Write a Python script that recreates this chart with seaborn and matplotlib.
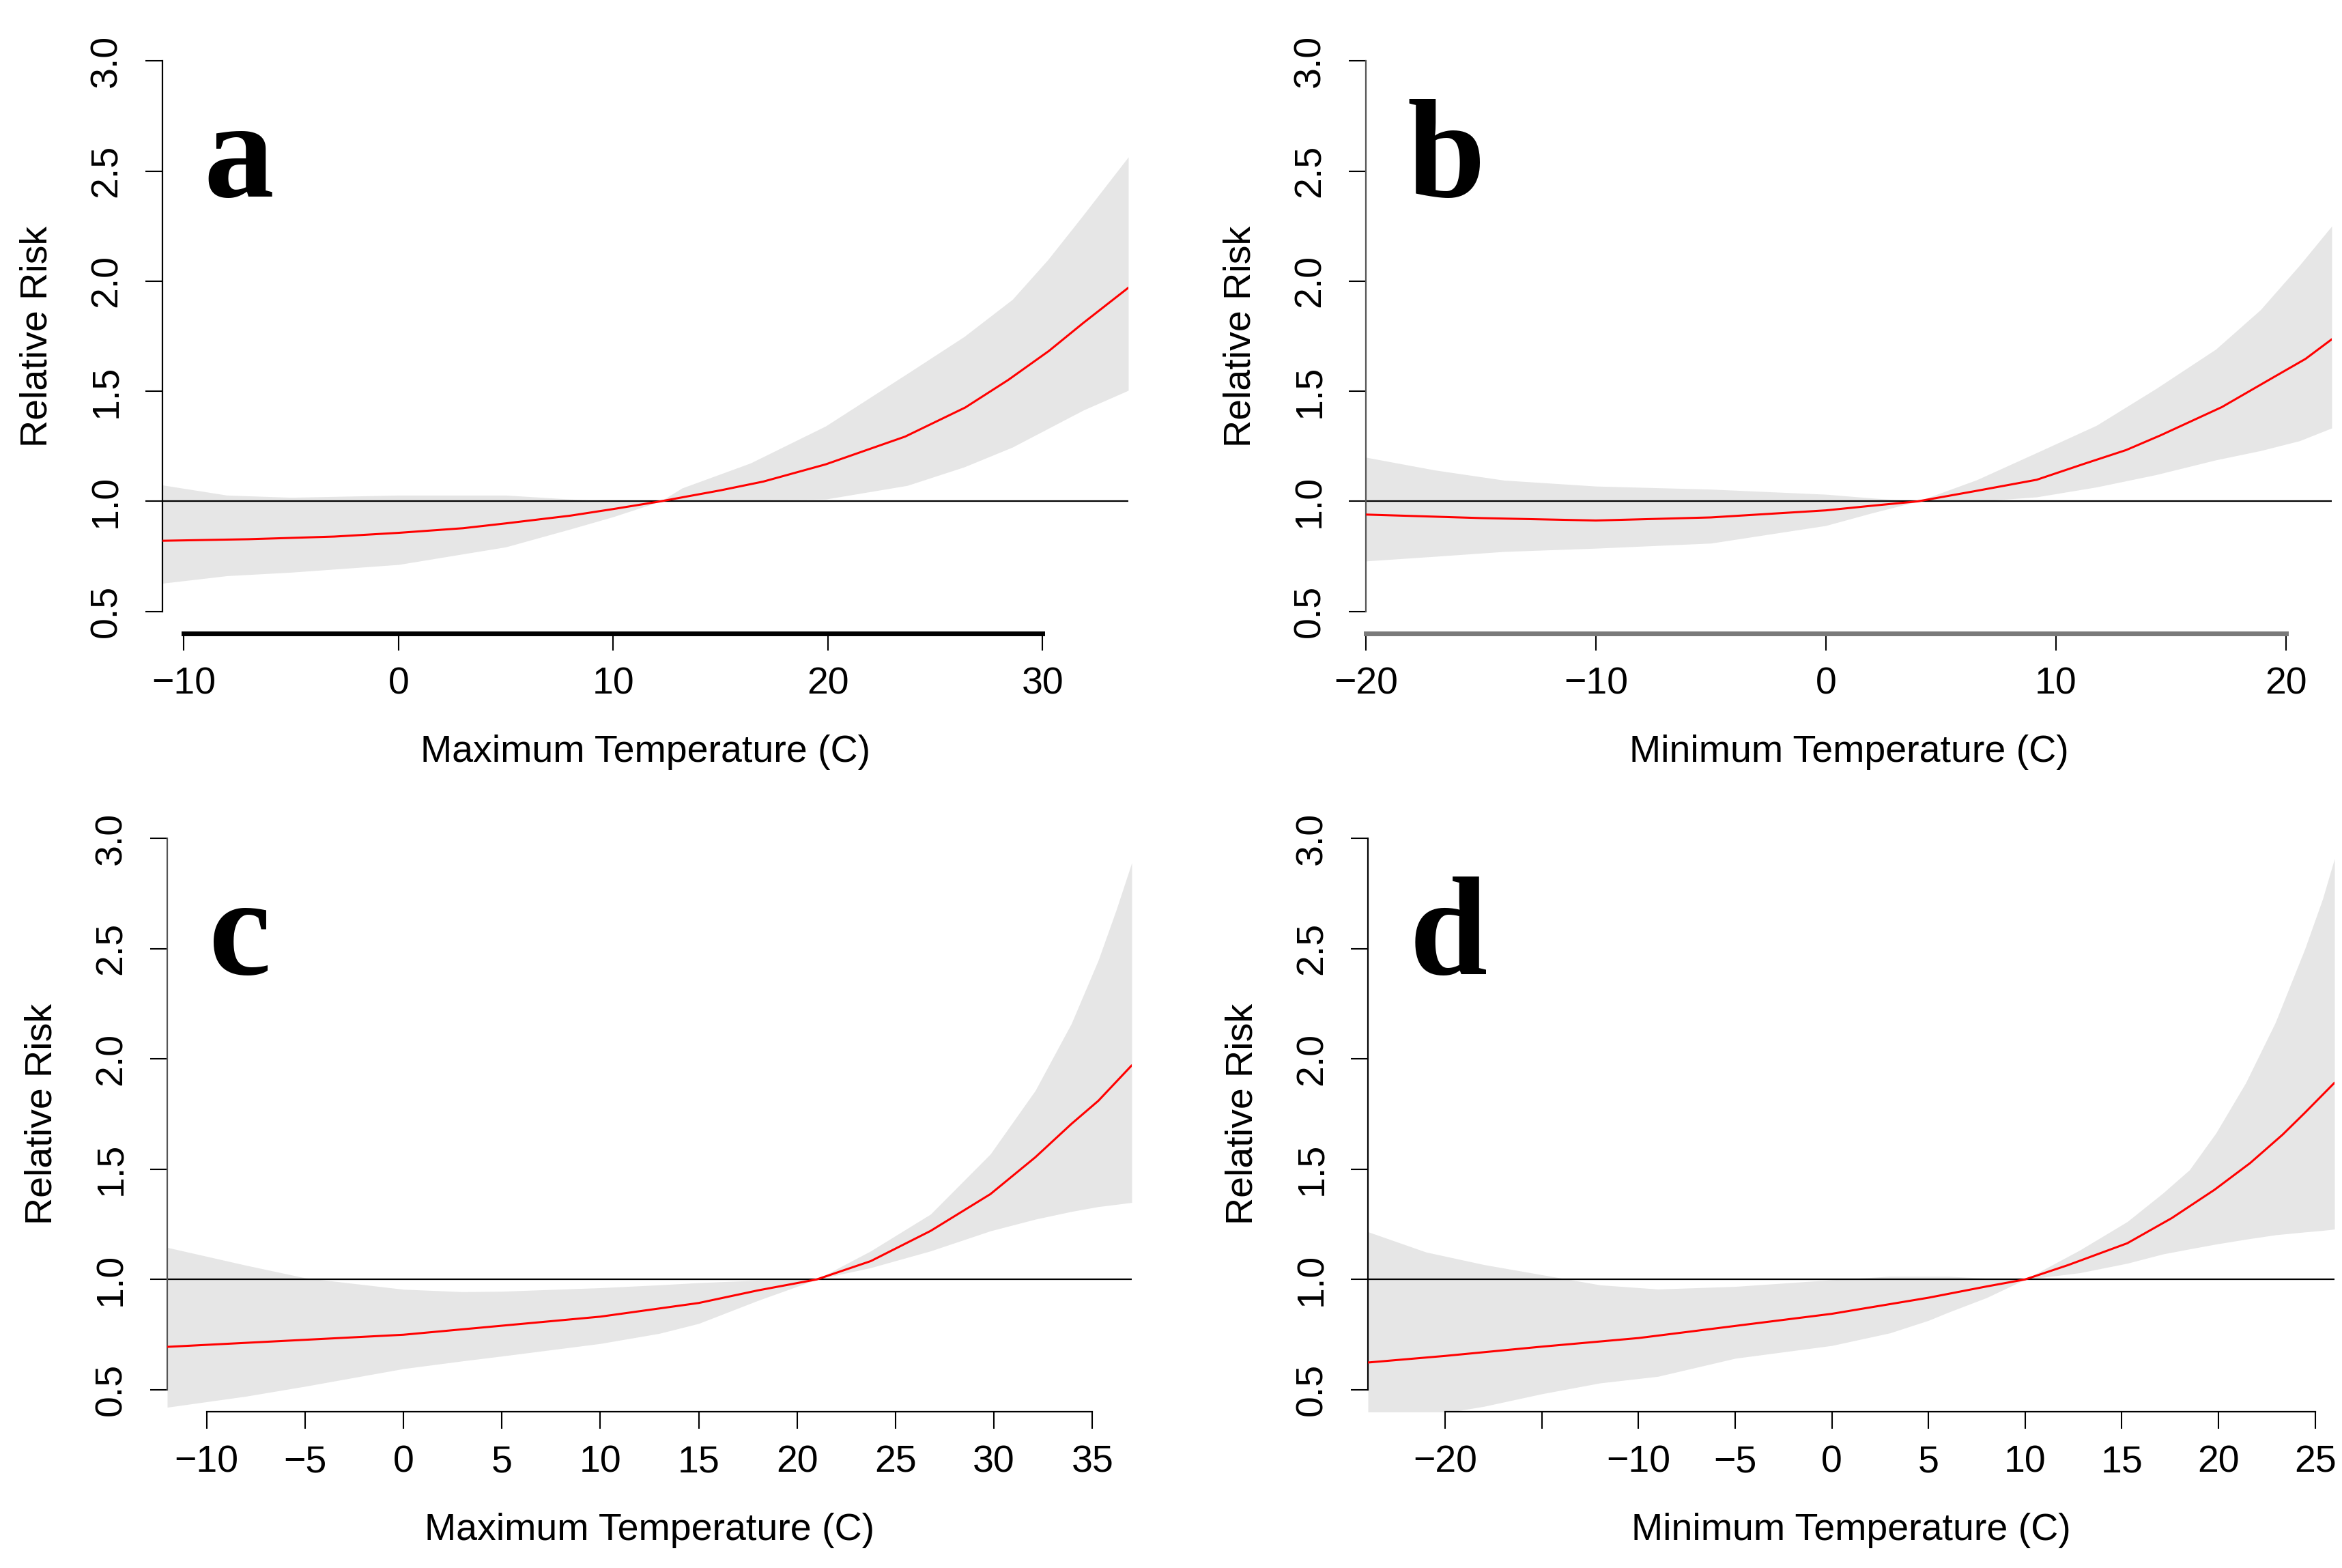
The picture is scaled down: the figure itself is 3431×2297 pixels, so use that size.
import matplotlib
matplotlib.use("Agg")
import matplotlib.pyplot as plt
import seaborn as sns
import pandas as pd

# ---------------- data ----------------
# Panel a: Maximum temperature
a_x_rr = [-11, -7, -3, 0, 3, 5, 8, 10, 12.2, 15, 17, 19.9, 23.6, 26.4, 28.4, 30.3, 31.9, 34]
a_rr = [0.821, 0.828, 0.84, 0.857, 0.878, 0.90, 0.935, 0.965, 1.0, 1.05, 1.09, 1.168, 1.294, 1.426, 1.551, 1.683, 1.81, 1.97]
a_x_band = [-11, -8, -5, 0, 5, 8, 10, 12.2, 13.2, 16.4, 19.9, 23.7, 26.35, 28.6, 30.25, 31.9, 34]
a_hi = [1.074, 1.028, 1.018, 1.028, 1.028, 1.01, 1.0, 1.0, 1.06, 1.174, 1.342, 1.58, 1.748, 1.917, 2.097, 2.30, 2.564]
a_lo = [0.628, 0.662, 0.678, 0.713, 0.793, 0.874, 0.93, 1.0, 1.006, 1.005, 1.01, 1.072, 1.156, 1.246, 1.33, 1.414, 1.504]

# Panel b: Minimum temperature
b_x_rr = [-20, -15, -10, -5, 0, 2, 4, 6.57, 9.17, 11.25, 13.06, 14.56, 17.22, 19.36, 20.86, 22]
b_rr = [0.94, 0.924, 0.913, 0.927, 0.959, 0.98, 1.0, 1.048, 1.098, 1.171, 1.233, 1.30, 1.428, 1.557, 1.647, 1.736]
b_x_band = [-20, -17, -14, -10, -5, 0, 2, 4, 6.57, 9.17, 11.77, 14.36, 16.96, 18.9, 20.6, 22]
b_hi = [1.20, 1.142, 1.096, 1.069, 1.055, 1.032, 1.015, 1.0, 1.098, 1.221, 1.345, 1.512, 1.691, 1.87, 2.072, 2.25]
b_lo = [0.729, 0.75, 0.772, 0.787, 0.81, 0.89, 0.947, 1.0, 1.0, 1.02, 1.065, 1.121, 1.188, 1.23, 1.275, 1.333]

# Panel c: Maximum temperature
c_x_rr = [-12, -5, 0, 5, 10, 15, 18, 21, 23.74, 26.78, 29.82, 32.1, 33.93, 35.3, 37]
c_rr = [0.694, 0.726, 0.749, 0.79, 0.831, 0.893, 0.95, 1.0, 1.083, 1.22, 1.387, 1.554, 1.705, 1.81, 1.971]
c_x_band = [-12, -8, -5, 0, 3, 5, 10, 13, 15, 18, 21, 23.74, 26.78, 29.82, 32.1, 33.93, 35.3, 36.21, 37]
c_hi = [1.145, 1.064, 1.007, 0.955, 0.944, 0.946, 0.962, 0.975, 0.985, 0.996, 1.0, 1.129, 1.296, 1.569, 1.857, 2.16, 2.448, 2.676, 2.89]
c_lo = [0.42, 0.47, 0.515, 0.595, 0.63, 0.652, 0.709, 0.755, 0.80, 0.904, 1.0, 1.053, 1.129, 1.22, 1.273, 1.308, 1.33, 1.34, 1.349]

# Panel d: Minimum temperature
d_x_rr = [-24, -20, -15, -10, -5, 0, 5, 8, 10, 12.22, 15.28, 17.58, 19.8, 21.64, 23.32, 24.47, 26]
d_rr = [0.623, 0.653, 0.695, 0.734, 0.789, 0.844, 0.917, 0.968, 1.0, 1.065, 1.164, 1.278, 1.407, 1.528, 1.657, 1.756, 1.892]
d_x_band = [-24, -21, -18, -15, -12, -9, -5, 0, 3, 5, 6, 8, 10, 12.83, 15.28, 17.12, 18.5, 19.87, 21.41, 22.94, 24.47, 25.39, 26]
d_hi = [1.216, 1.124, 1.067, 1.021, 0.975, 0.956, 0.968, 0.998, 1.014, 1.014, 1.014, 1.005, 1.0, 1.133, 1.262, 1.391, 1.497, 1.664, 1.892, 2.165, 2.5, 2.727, 2.909]
d_lo = [0.33, 0.38, 0.424, 0.481, 0.53, 0.56, 0.642, 0.70, 0.757, 0.814, 0.85, 0.917, 1.0, 1.03, 1.073, 1.115, 1.138, 1.16, 1.182, 1.202, 1.215, 1.222, 1.228]

y_ticks = [0.5, 1.0, 1.5, 2.0, 2.5, 3.0]
y_ticklabels = ["0.5", "1.0", "1.5", "2.0", "2.5", "3.0"]

a_xticks = [-10, 0, 10, 20, 30]
b_xticks = [-20, -10, 0, 10, 20]
c_xticks = [-10, -5, 0, 5, 10, 15, 20, 25, 30, 35]
d_xticks = [-20, -15, -10, -5, 0, 5, 10, 15, 20, 25]
a_xticklabels = ["\u221210", "0", "10", "20", "30"]
b_xticklabels = ["\u221220", "\u221210", "0", "10", "20"]
c_xticklabels = ["\u221210", "\u22125", "0", "5", "10", "15", "20", "25", "30", "35"]
d_xticklabels = ["\u221220", "", "\u221210", "\u22125", "0", "5", "10", "15", "20", "25"]

panel_letters = ["a", "b", "c", "d"]
x_titles = ["Maximum Temperature (C)", "Minimum Temperature (C)",
            "Maximum Temperature (C)", "Minimum Temperature (C)"]
y_title = "Relative Risk"

# ---------------- styling ----------------
sns.set_style("ticks")
plt.rcParams["font.family"] = ["Liberation Sans", "DejaVu Sans"]
plt.rcParams["text.color"] = "black"
plt.rcParams["axes.labelcolor"] = "black"
plt.rcParams["xtick.color"] = "black"
plt.rcParams["ytick.color"] = "black"

W, H = 3431, 2297
fig = plt.figure(figsize=(W / 100, H / 100), dpi=100)

positions = [
    [238 / W, 0.5960, 1415 / W, 0.3792],
    [2001 / W, 0.5960, 1415 / W, 0.3792],
    [245 / W, 0.0997, 1413 / W, 0.3796],
    [2004 / W, 0.0997, 1416 / W, 0.3796],
]
xlims = [(-11, 34), (-20, 22), (-12, 37), (-24, 26)]
panels = [
    (a_x_rr, a_rr, a_x_band, a_hi, a_lo, a_xticks, a_xticklabels),
    (b_x_rr, b_rr, b_x_band, b_hi, b_lo, b_xticks, b_xticklabels),
    (c_x_rr, c_rr, c_x_band, c_hi, c_lo, c_xticks, c_xticklabels),
    (d_x_rr, d_rr, d_x_band, d_hi, d_lo, d_xticks, d_xticklabels),
]
bottom_spine_style = [(5.0, "black"), (5.0, "#7a7a7a"), (1.6, "black"), (1.6, "black")]
left_spine_color = ["black", "#555555", "#555555", "black"]

FS = 40
for i, (xr, rr, xb, hi, lo, xt, xtl) in enumerate(panels):
    ax = fig.add_axes(positions[i])
    ax.set_facecolor("white")
    ax.fill_between(xb, lo, hi, color="#e6e6e6", linewidth=0, zorder=1)
    ax.axhline(1.0, color="black", lw=1.6, zorder=2)
    df = pd.DataFrame({"x": xr, "rr": rr})
    sns.lineplot(data=df, x="x", y="rr", ax=ax, color="red", lw=2.2, zorder=3)
    ax.set_xlim(*xlims[i])
    ax.set_ylim(0.4, 3.1)

    ax.set_yticks(y_ticks)
    ax.set_yticklabels(y_ticklabels, rotation=90, va="center")
    ax.set_xticks(xt)
    ax.set_xticklabels(xtl)
    ax.tick_params(axis="both", direction="out", length=18, width=1.5,
                   labelsize=FS, color="black", labelcolor="black")
    ax.tick_params(axis="y", pad=22)
    ax.tick_params(axis="x", pad=17)

    for s in ["top", "right"]:
        ax.spines[s].set_visible(False)
    ax.spines["left"].set_bounds(0.5, 3.0)
    ax.spines["left"].set_linewidth(1.6)
    ax.spines["left"].set_color(left_spine_color[i])
    ax.spines["bottom"].set_bounds(xt[0], xt[-1])
    ax.spines["bottom"].set_linewidth(bottom_spine_style[i][0])
    ax.spines["bottom"].set_color(bottom_spine_style[i][1])

    ax.set_xlabel(x_titles[i], fontsize=FS, labelpad=34, color="black")
    ax.set_ylabel(y_title, fontsize=FS, labelpad=36, color="black")

    ax.text(0.043, 0.735, panel_letters[i], transform=ax.transAxes,
            fontsize=148, fontweight="bold", family=["Liberation Serif", "DejaVu Serif"],
            color="black", ha="left", va="baseline", zorder=4)

fig.savefig("out.png", dpi=100, facecolor="white")
